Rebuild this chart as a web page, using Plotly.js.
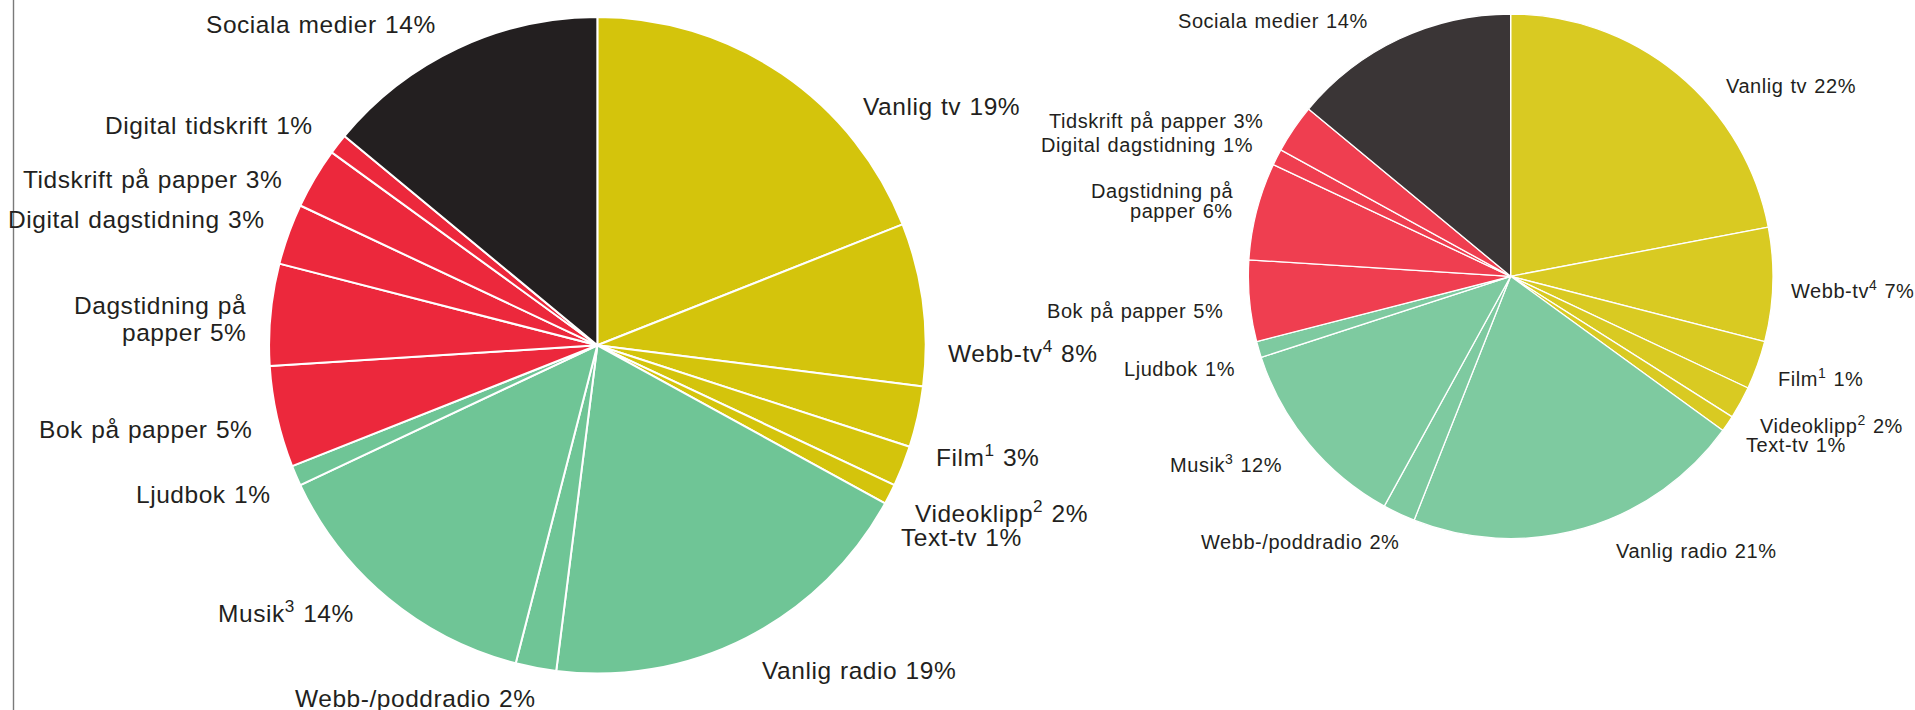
<!DOCTYPE html>
<html>
<head>
<meta charset="utf-8">
<script src="https://cdn.plot.ly/plotly-3.0.1.min.js"></script>
<style>
  html, body { margin: 0; padding: 0; background: #ffffff; }
  #chart { width: 1915px; height: 710px; }
  text.annotation-text { letter-spacing: 0.55px; word-spacing: 1px; }
</style>
</head>
<body>
<div id="chart"></div>
<script>
// ---------- DATA ----------
// Left pie (slices clockwise from 12 o'clock)
const leftCategories = [
  "Vanlig tv", "Webb-tv⁴", "Film¹", "Videoklipp²", "Text-tv",
  "Vanlig radio", "Webb-/poddradio", "Musik³", "Ljudbok",
  "Bok på papper", "Dagstidning på papper", "Digital dagstidning",
  "Tidskrift på papper", "Digital tidskrift", "Sociala medier"
];
const leftValues = [19, 8, 3, 2, 1, 19, 2, 14, 1, 5, 5, 3, 3, 1, 14];
const leftGroups = ["tv", "tv", "tv", "tv", "tv", "ljud", "ljud", "ljud", "ljud",
  "text", "text", "text", "text", "text", "sociala"];
const leftLabelText = [
  "Vanlig tv 19%", "Webb-tv<sup>4</sup> 8%", "Film<sup>1</sup> 3%", "Videoklipp<sup>2</sup> 2%",
  "Text-tv 1%", "Vanlig radio 19%", "Webb-/poddradio 2%", "Musik<sup>3</sup> 14%",
  "Ljudbok 1%", "Bok på papper 5%", "Dagstidning på<br>papper 5%", "Digital dagstidning 3%",
  "Tidskrift på papper 3%", "Digital tidskrift 1%", "Sociala medier 14%"
];

// Right pie (slice sizes as drawn; printed labels kept as text)
const rightCategories = [
  "Vanlig tv", "Webb-tv⁴", "Film¹", "Videoklipp²", "Text-tv",
  "Vanlig radio", "Webb-/poddradio", "Musik³", "Ljudbok",
  "Bok på papper", "Dagstidning på papper", "Digital dagstidning",
  "Tidskrift på papper", "Sociala medier"
];
const rightValues = [22, 7, 3, 2, 1, 21, 2, 12, 1, 5, 6, 1, 3, 14];
const rightGroups = ["tv", "tv", "tv", "tv", "tv", "ljud", "ljud", "ljud", "ljud",
  "text", "text", "text", "text", "sociala"];
const rightLabelText = [
  "Vanlig tv 22%", "Webb-tv<sup>4</sup> 7%", "Film<sup>1</sup> 1%", "Videoklipp<sup>2</sup> 2%",
  "Text-tv 1%", "Vanlig radio 21%", "Webb-/poddradio 2%", "Musik<sup>3</sup> 12%",
  "Ljudbok 1%", "Bok på papper 5%", "Dagstidning på<br>papper 6%", "Digital dagstidning 1%",
  "Tidskrift på papper 3%", "Sociala medier 14%"
];

// ---------- STYLE / LAYOUT ----------
const W = 1915, H = 710;
const leftPalette  = { tv: "#D4C40C", ljud: "#6FC596", text: "#EC283C", sociala: "#231F20" };
const rightPalette = { tv: "#D9CA22", ljud: "#7ECAA0", text: "#EF3E50", sociala: "#3A3536" };
const textColor = "#231F20";
const fontFamily = "'Liberation Sans', Arial, Helvetica, sans-serif";

// label anchor positions in pixels: [x, y(cap centre), xanchor]
const leftLabelPos = [
  [863, 106, "left"], [948, 351, "left"], [936, 455, "left"], [915, 511, "left"], [901, 537.5, "left"],
  [859, 670, "center"], [415, 698, "center"], [354, 611, "right"], [271, 494, "right"],
  [252, 429, "right"], [246, 305, "right"], [265, 219, "right"], [282, 179.5, "right"],
  [313, 125.5, "right"], [436, 25, "right"]
];
const rightLabelPos = [
  [1726, 86, "left"], [1791, 289.5, "left"], [1778, 378, "left"], [1760, 424, "left"], [1746, 444.7, "left"],
  [1696, 551, "center"], [1300, 542, "center"], [1282, 463, "right"], [1235, 369, "right"],
  [1223, 311, "right"], [1233, 191, "right"], [1253, 145, "right"], [1263, 121, "right"],
  [1368, 21, "right"]
];

function makeAnnotations(texts, pos, size, lineGap) {
  const out = [];
  texts.forEach((t, i) => {
    const lines = t.split("<br>");
    lines.forEach((ln, j) => {
      out.push({
        xref: "paper", yref: "paper",
        x: pos[i][0] / W, y: 1 - (pos[i][1] + j * lineGap) / H,
        xanchor: pos[i][2], yanchor: "middle",
        text: ln, showarrow: false,
        borderpad: 0, borderwidth: 0,
        font: { family: fontFamily, size: size, color: textColor }
      });
    });
  });
  return out;
}

const leftTrace = {
  type: "pie",
  labels: leftCategories,
  values: leftValues,
  sort: false,
  direction: "clockwise",
  rotation: 0,
  textinfo: "none",
  hoverinfo: "label+percent",
  marker: { colors: leftGroups.map(g => leftPalette[g]), line: { color: "#ffffff", width: 2 } },
  domain: { x: [269 / W, 925.7 / W], y: [1 - 673.6 / H, 1 - 17 / H] },
  showlegend: false
};

const rightTrace = {
  type: "pie",
  labels: rightCategories,
  values: rightValues,
  sort: false,
  direction: "clockwise",
  rotation: 0,
  textinfo: "none",
  hoverinfo: "label+percent",
  marker: { colors: rightGroups.map(g => rightPalette[g]), line: { color: "#ffffff", width: 1.3 } },
  domain: { x: [1248.3 / W, 1773 / W], y: [1 - 538.6 / H, 1 - 14 / H] },
  showlegend: false
};

const layout = {
  width: W, height: H,
  margin: { l: 0, r: 0, t: 0, b: 0, pad: 0 },
  paper_bgcolor: "#ffffff",
  plot_bgcolor: "#ffffff",
  showlegend: false,
  annotations: makeAnnotations(leftLabelText, leftLabelPos, 24.5, 27)
    .concat(makeAnnotations(rightLabelText, rightLabelPos, 20, 20.5)),
  shapes: [{
    type: "line", xref: "paper", yref: "paper",
    x0: 13.5 / W, x1: 13.5 / W, y0: 0, y1: 1,
    line: { color: "#7a7a7a", width: 1.4 }
  }]
};

Plotly.newPlot("chart", [leftTrace, rightTrace], layout, { displayModeBar: false, staticPlot: true });
</script>
</body>
</html>
